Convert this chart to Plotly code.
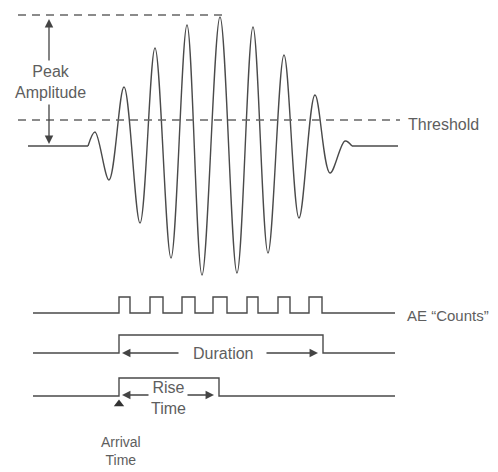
import plotly.graph_objects as go

# ---- data (x: time in px-like units, y: amplitude, baseline = 0) ----
wave_t = [88, 95, 109, 124, 140, 155, 171, 187, 202, 220, 237, 253, 268, 284, 299, 315, 330, 345, 352]
wave_a = [0, 14, -34, 59, -77, 98, -112, 121, -129, 129, -127, 119, -107, 91, -72, 51, -27, 5, 0]
pre_t = [28, 88]
post_t = [352, 398]
peak_level = 131
threshold_level = 26

count_starts = [119, 150, 182, 213, 247, 278, 309]
count_ends = [130, 163, 195, 227, 258, 290, 322]
arrival_t = 119
duration_end = 323
rise_end = 219

line_x0, line_x1 = 33, 395
counts_base, counts_top = -167, -151
dur_base, dur_top = -207, -189
rise_base, rise_top = -250, -232

INK = "#4a4a4a"
TXT = "#5e5e5e"
FAMILY = "Liberation Sans, Arial, sans-serif"

fig = go.Figure()

# waveform
fig.add_trace(go.Scatter(x=pre_t, y=[0, 0], mode="lines", line=dict(color=INK, width=1.6), hoverinfo="skip"))
fig.add_trace(go.Scatter(x=wave_t, y=wave_a, mode="lines", line=dict(color=INK, width=1.4, shape="spline", smoothing=1.0), hoverinfo="skip"))
fig.add_trace(go.Scatter(x=post_t, y=[0, 0], mode="lines", line=dict(color=INK, width=1.6), hoverinfo="skip"))

# dashed reference lines
fig.add_trace(go.Scatter(x=[18, 223], y=[peak_level, peak_level], mode="lines",
                         line=dict(color="#666", width=1.3, dash="8px,6px"), hoverinfo="skip"))
fig.add_trace(go.Scatter(x=[18, 400], y=[threshold_level, threshold_level], mode="lines",
                         line=dict(color="#666", width=1.3, dash="8px,6px"), hoverinfo="skip"))

# AE counts pulse train
cx, cy = [line_x0], [counts_base]
for s, e in zip(count_starts, count_ends):
    cx += [s, s, e, e]
    cy += [counts_base, counts_top, counts_top, counts_base]
cx.append(line_x1)
cy.append(counts_base)
fig.add_trace(go.Scatter(x=cx, y=cy, mode="lines", line=dict(color=INK, width=1.4), hoverinfo="skip"))

# Duration gate
fig.add_trace(go.Scatter(x=[line_x0, arrival_t, arrival_t, duration_end, duration_end, line_x1],
                         y=[dur_base, dur_base, dur_top, dur_top, dur_base, dur_base],
                         mode="lines", line=dict(color=INK, width=1.4), hoverinfo="skip"))

# Rise time gate
fig.add_trace(go.Scatter(x=[line_x0, arrival_t, arrival_t, rise_end, rise_end, line_x1],
                         y=[rise_base, rise_base, rise_top, rise_top, rise_base, rise_base],
                         mode="lines", line=dict(color=INK, width=1.4), hoverinfo="skip"))

# arrival marker
fig.add_trace(go.Scatter(x=[arrival_t], y=[rise_base - 8], mode="markers",
                         marker=dict(symbol="triangle-up", size=9, color="#333"), hoverinfo="skip"))


def arrow(x0, y0, x1, y1):
    fig.add_annotation(x=x1, y=y1, ax=x0, ay=y0, xref="x", yref="y", axref="x", ayref="y",
                       text="", showarrow=True, arrowhead=2, arrowsize=1.3, arrowwidth=1.3,
                       arrowcolor="#444")


# peak amplitude arrows
arrow(49, 84, 49, 127)
arrow(49, 43, 49, 2)
# duration arrows
arrow(180, dur_base, 122, dur_base)
arrow(265, dur_base, 318, dur_base)
# rise time arrows
arrow(150, rise_base + 1, 122, rise_base + 1)
arrow(186, rise_base + 1, 214, rise_base + 1)


def label(x, y, t, anchor="center", size=16):
    fig.add_annotation(x=x, y=y, xref="x", yref="y", text=t, showarrow=False,
                       font=dict(family=FAMILY, size=size, color=TXT),
                       xanchor=anchor, yanchor="middle", align="center")


label(50, 64, "Peak<br>Amplitude")
label(406, 22, "Threshold", "left")
label(405, -169, "AE \u201cCounts\u201d", "left", size=15)
label(223, -207, "Duration")
label(168, -252, "Rise<br>Time")
label(121, -305, "Arrival<br>Time", size=14)

fig.update_layout(
    width=498, height=472,
    margin=dict(l=0, r=0, t=0, b=0),
    paper_bgcolor="white", plot_bgcolor="white",
    showlegend=False,
    # page body has an 8px offset; ranges compensate so marks land where the reference has them
    xaxis=dict(range=[8, 506], visible=False, fixedrange=True),
    yaxis=dict(range=[-334, 138], visible=False, fixedrange=True),
)

fig.write_html("out.html")
